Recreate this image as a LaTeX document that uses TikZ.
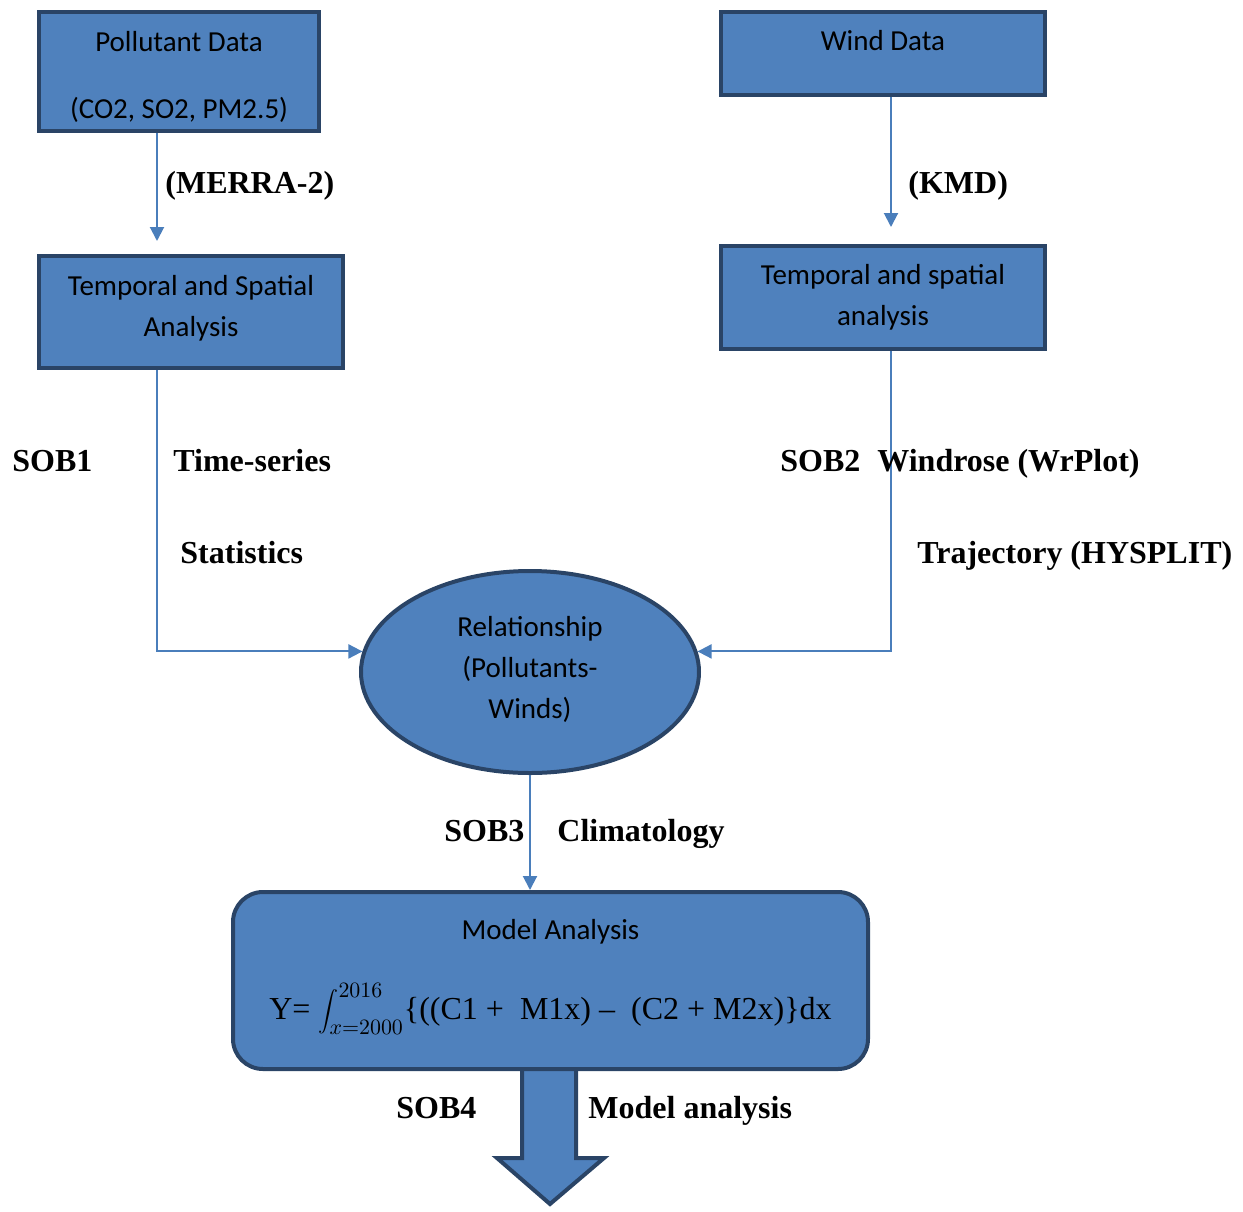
\documentclass[tikz,border=0pt]{standalone}
\usepackage{fontspec}
\setmainfont{Liberation Serif}
\newfontfamily\calibri{Carlito}
\usetikzlibrary{shapes.geometric,arrows.meta}
\definecolor{boxblue}{HTML}{4F81BD}
\definecolor{boxline}{HTML}{2A4466}
\definecolor{flowblue}{HTML}{4A7EBB}
\newcommand{\lift}[2]{\raisebox{#1}[\height][\depth]{\begin{tabular}{@{}c@{}}#2\end{tabular}}}

\begin{document}
\begin{tikzpicture}[x=0.5pt,y=-0.5pt]
  \tikzstyle{box}=[draw=boxline, line width=2pt, fill=boxblue, align=center, inner sep=0pt, font=\calibri\fontsize{14.5}{20.5}\selectfont]
  \tikzstyle{flow}=[draw=flowblue, line width=1pt, -{Triangle[length=7pt,width=7pt]}]
  \tikzstyle{lbl}=[anchor=base west, inner sep=0pt, font=\bfseries\fontsize{16}{19}\selectfont]

  \useasboundingbox (0,0) rectangle (1243,1211);

  % output arrow under the model box
  \draw[draw=boxline, line width=2pt, fill=boxblue] (522,1065) -- (522,1158) -- (497,1158) -- (550,1204) -- (604,1158) -- (576,1158) -- (576,1065) -- cycle;

  \node[box, minimum width=140pt, minimum height=59.5pt] (poll) at (179, 71.5) {\lift{-2.5pt}{Pollutant Data\\[13pt](CO2, SO2, PM2.5)}};
  \node[box, minimum width=162pt, minimum height=41.5pt] (wind) at (883, 53.5) {\lift{5.75pt}{Wind Data}};
  \node[box, minimum width=152pt, minimum height=56pt] (pta) at (191, 312) {\lift{2pt}{Temporal and Spatial\\Analysis}};
  \node[box, minimum width=162pt, minimum height=51.5pt] (wta) at (883, 297.5) {Temporal and spatial\\analysis};
  \node[box, ellipse, minimum width=169pt, minimum height=101pt] (rel) at (530, 672) {\lift{1.5pt}{Relationship\\(Pollutants-\\Winds)}};
  \node[box, rounded corners=15pt, minimum width=317.5pt, minimum height=88.5pt] (model) at (550.5, 980.5)
    {\lift{4pt}{Model Analysis\\[16pt]{\rmfamily\fontsize{16}{19}\selectfont Y= $\displaystyle\int_{x=2000}^{2016}$\{((C1 +\ \ M1x) –\ \ (C2 + M2x)\}dx}}};

  \coordinate (lcol) at (157, 0);
  \coordinate (rcol) at (891, 0);

  \draw[flow, shorten >=6.5pt] (poll.south -| lcol) -- (pta.north -| lcol);
  \draw[flow, shorten >=8.5pt] (wind.south -| rcol) -- (wta.north -| rcol);
  \draw[flow] (pta.south -| lcol) |- (rel.173);
  \draw[flow] (wta.south -| rcol) |- (rel.7);
  \draw[flow] (rel.south) -- (rel.south |- model.north);

  \node[lbl] (merra) at (165, 193) {(MERRA-2)};
  \node[lbl] (kmd)   at (908, 193) {(KMD)};
  \node[lbl] (sob1)  at (12, 471)  {SOB1};
  \node[lbl] (tser)  at (173, 471) {Time-series};
  \node[lbl] (stat)  at (180, 563) {Statistics};
  \node[lbl] (sob2)  at (780, 471) {SOB2};
  \node[lbl] (wrose) at (877, 471) {Windrose (WrPlot)};
  \node[lbl] (traj)  at (917, 563) {Trajectory (HYSPLIT)};
  \node[lbl] (sob3)  at (444, 841) {SOB3};
  \node[lbl] (clim)  at (557, 841) {Climatology};
  \node[lbl] (sob4)  at (396, 1118) {SOB4};
  \node[lbl] (manal) at (588, 1118) {Model analysis};

\end{tikzpicture}
\end{document}
